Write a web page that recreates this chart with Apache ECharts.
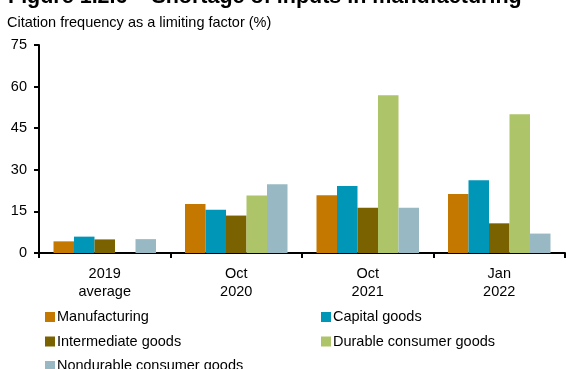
<!DOCTYPE html>
<html>
<head>
<meta charset="utf-8">
<script src="https://cdn.jsdelivr.net/npm/echarts@6/dist/echarts.min.js"></script>
<style>
  html, body { margin: 0; padding: 0; background: #fff; }
  #chart { width: 566px; height: 369px; }
</style>
</head>
<body>
<div id="chart"></div>
<script>
// Categories along the x axis (two-line labels)
const categories = ['2019\naverage', 'Oct\n2020', 'Oct\n2021', 'Jan\n2022'];

// Citation frequency of input shortages as a limiting factor (%)
const manufacturing = [4.2, 17.7, 20.8, 21.3];
const capitalGoods = [5.9, 15.6, 24.2, 26.2];
const intermediateGoods = [4.9, 13.5, 16.3, 10.7];
const durableConsumerGoods = [0, 20.7, 56.9, 50.0];
const nondurableConsumerGoods = [5.0, 24.8, 16.3, 7.0];

const seriesNames = ['Manufacturing', 'Capital goods', 'Intermediate goods',
  'Durable consumer goods', 'Nondurable consumer goods'];
const seriesData = [manufacturing, capitalGoods, intermediateGoods,
  durableConsumerGoods, nondurableConsumerGoods];
const colors = ['#C57800', '#0096B8', '#7A6200', '#ADC468', '#98B9C3'];

const font = 'Liberation Sans, Arial, sans-serif';

const legendText = { fontFamily: font, fontSize: 14.5, color: '#000', lineHeight: 14, padding: [0, 0, 0, -3] };

const chart = echarts.init(document.getElementById('chart'), null, { renderer: 'canvas' });

chart.setOption({
  animation: false,
  backgroundColor: '#ffffff',
  textStyle: { fontFamily: font },
  title: [
    {
      text: 'Figure 1.2.6 \u2013 Shortage of inputs in manufacturing',
      left: 3, top: -18.5,
      textStyle: { fontFamily: font, fontSize: 21.5, fontWeight: 'bold', color: '#000' }
    },
    {
      text: 'Citation frequency as a limiting factor (%)',
      left: 2, top: 10,
      textStyle: { fontFamily: font, fontSize: 14.5, fontWeight: 'normal', color: '#000' }
    }
  ],
  legend: [
    {
      data: ['Manufacturing', 'Intermediate goods', 'Nondurable consumer goods'],
      orient: 'vertical', left: 45, top: 309.5, height: 80, padding: 0,
      itemWidth: 10, itemHeight: 10, itemGap: 9.5, icon: 'rect',
      textStyle: legendText
    },
    {
      data: ['Capital goods', 'Durable consumer goods'],
      orient: 'vertical', left: 321, top: 309.5, height: 80, padding: 0,
      itemWidth: 10, itemHeight: 10, itemGap: 9.5, icon: 'rect',
      textStyle: legendText
    }
  ],
  grid: { left: 39, right: 1, top: 45, bottom: 116, containLabel: false },
  xAxis: {
    type: 'category',
    data: categories,
    axisLine: { lineStyle: { color: '#000', width: 2 } },
    axisTick: { show: true, length: 5, lineStyle: { color: '#000', width: 2 } },
    axisLabel: { color: '#000', fontSize: 14.5, fontFamily: font, lineHeight: 18, margin: 12 },
    splitLine: { show: false }
  },
  yAxis: {
    type: 'value',
    min: 0, max: 75, interval: 15,
    axisLine: { show: true, lineStyle: { color: '#000', width: 2 } },
    axisTick: { show: true, length: 5, lineStyle: { color: '#000', width: 2 } },
    axisLabel: { color: '#000', fontSize: 14.5, fontFamily: font, margin: 12 },
    splitLine: { show: false }
  },
  series: seriesNames.map((name, i) => ({
    name: name,
    type: 'bar',
    data: seriesData[i],
    barWidth: 20.5,
    barGap: '0%',
    itemStyle: { color: colors[i] }
  }))
});
</script>
</body>
</html>
